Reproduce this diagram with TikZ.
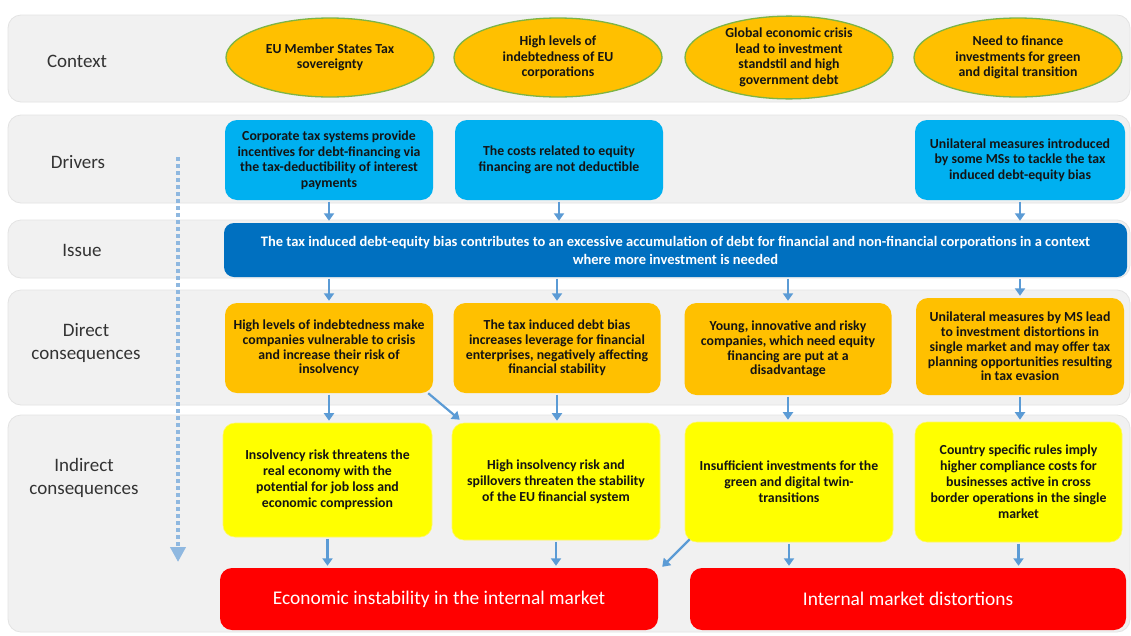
\documentclass[tikz,border=0pt]{standalone}
\usepackage{fontspec}
\setmainfont{Carlito}
\usetikzlibrary{shapes.geometric,arrows.meta,calc}
\definecolor{bandgray}{HTML}{F1F1F1}
\definecolor{bandline}{HTML}{E3E3E3}
\definecolor{ctxorange}{HTML}{FFC000}
\definecolor{ctxgreen}{HTML}{7DB446}
\definecolor{drvcyan}{HTML}{00B0F0}
\definecolor{issblue}{HTML}{0070C0}
\definecolor{conorange}{HTML}{FFC000}
\definecolor{indyellow}{HTML}{FFFF00}
\definecolor{outred}{HTML}{FF0000}
\definecolor{arrblue}{HTML}{5B9BD5}
\definecolor{dotblue}{HTML}{8FB8E0}
\definecolor{lbltext}{HTML}{333333}
\definecolor{boxtext}{HTML}{141414}
\begin{document}
\begin{tikzpicture}[x=1pt,y=-1pt,
  band/.style={fill=bandgray, draw=bandline, line width=0.8pt, rounded corners=13pt},
  lbl/.style={text=lbltext, font=\fontsize{19}{23}\selectfont, align=center},
  ctx/.style={ellipse, fill=ctxorange, draw=ctxgreen, line width=1.3pt, minimum width=208, minimum height=79, inner sep=0pt, text=boxtext, font=\bfseries\fontsize{13.8}{15.5}\selectfont, align=center},
  boxbase/.style={rounded corners=12pt, inner sep=0pt, align=center, text=boxtext, font=\bfseries\fontsize{13.8}{15.5}\selectfont},
  drvbox/.style={boxbase, fill=drvcyan, minimum width=208, minimum height=80},
  issbox/.style={rounded corners=10pt, inner sep=0pt, align=center, fill=issblue, text=white, font=\bfseries\fontsize{14.5}{18}\selectfont},
  conbox/.style={boxbase, fill=conorange, font=\bfseries\fontsize{13.8}{14.8}\selectfont},
  indbox/.style={boxbase, fill=indyellow, draw=yellow!60!white, line width=0.6pt, font=\bfseries\fontsize{13.8}{16}\selectfont},
  outbox/.style={rounded corners=12pt, inner sep=0pt, align=center, fill=outred, text=white, font=\fontsize{19.4}{22}\selectfont},
  arr/.style={draw=arrblue, line width=2.2pt, -{Triangle[length=7.5pt,width=10pt]}, shorten <=1.5pt, shorten >=2pt},
  dotarr/.style={draw=dotblue, line width=4pt, dash pattern=on 4pt off 3pt, -{Triangle[length=15pt,width=15pt]}}
]
\useasboundingbox (0,0) rectangle (1131,635);
\fill[white] (0,0) rectangle (1131,635);

% bands
\draw[band] (8,15) rectangle (1130,102);
\draw[band] (8,115) rectangle (1130,203);
\draw[band] (8,220) rectangle (1130,278);
\draw[band] (8,290) rectangle (1130,405);
\draw[band] (8,415) rectangle (1130,632);

% row labels
\node[lbl] (lctx) at (77,61) {Context};
\node[lbl] (ldrv) at (78,162) {Drivers};
\node[lbl] (liss) at (82,250) {Issue};
\node[lbl] (ldir) at (86,343) {Direct\\consequences};
\node[lbl] (lind) at (84,478) {Indirect\\consequences};

% context ellipses
\node[ctx] (e1) at (330,57.5) {EU Member States Tax\\sovereignty};
\node[ctx] (e2) at (558,57.5) {High levels of\\indebtedness of EU\\corporations};
\node[ctx] (e3) at (789,57.5) {Global economic crisis\\lead to investment\\standstil and high\\government debt};
\node[ctx] (e4) at (1018,57.5) {Need to finance\\investments for green\\and digital transition};

% drivers
\node[drvbox] (d1) at (329,160) {Corporate tax systems provide\\incentives for debt-financing via\\the tax-deductibility of interest\\payments};
\node[drvbox] (d2) at (559,160) {The costs related to equity\\financing are not deductible};
\node[drvbox, minimum width=210] (d4) at (1020,160) {Unilateral measures introduced\\by some MSs to tackle the tax\\induced debt-equity bias};

% issue
\node[issbox, minimum width=903, minimum height=54] (iss) at (675.5,250) {The tax induced debt-equity bias contributes to an excessive accumulation of debt for financial and non-financial corporations in a context\\where more investment is needed};

% direct consequences
\node[conbox, minimum width=208, minimum height=90] (c1) at (329,348) {High levels of indebtedness make\\companies vulnerable to crisis\\and increase their risk of\\insolvency};
\node[conbox, minimum width=207, minimum height=90] (c2) at (557,348) {The tax induced debt bias\\increases leverage for financial\\enterprises, negatively affecting\\financial stability};
\node[conbox, minimum width=207, minimum height=92] (c3) at (788,349) {Young, innovative and risky\\companies, which need equity\\financing are put at a\\disadvantage};
\node[conbox, minimum width=208, minimum height=97] (c4) at (1020,346.5) {Unilateral measures by MS lead\\to investment distortions in\\single market and may offer tax\\planning opportunities resulting\\in tax evasion};

% indirect consequences
\node[indbox, minimum width=209, minimum height=114] (i1) at (327.5,480) {Insolvency risk threatens the\\real economy with the\\potential for job loss and\\economic compression};
\node[indbox, minimum width=208, minimum height=117] (i2) at (556,481.5) {High insolvency risk and\\spillovers threaten the stability\\of the EU financial system};
\node[indbox, minimum width=208, minimum height=120] (i3) at (789,482) {Insufficient investments for the\\green and digital twin-\\transitions};
\node[indbox, minimum width=207, minimum height=120] (i4) at (1018.5,482) {Country specific rules imply\\higher compliance costs for\\businesses active in cross\\border operations in the single\\market};

% outcomes
\node[outbox, minimum width=438, minimum height=62] (r1) at (439,599) {Economic instability in the internal market};
\node[outbox, minimum width=436, minimum height=62] (r2) at (908,599) {Internal market distortions};

% connectors: drivers -> issue
\draw[arr] (d1.south) -- (d1.south |- iss.north);
\draw[arr] (d2.south) -- (d2.south |- iss.north);
\draw[arr] (d4.south) -- (d4.south |- iss.north);
% issue -> direct
\draw[arr] (c1.north |- iss.south) -- (c1.north);
\draw[arr] (c2.north |- iss.south) -- (c2.north);
\draw[arr] (c3.north |- iss.south) -- (c3.north);
\draw[arr] (c4.north |- iss.south) -- (c4.north);
% direct -> indirect
\draw[arr] (c1.south) -- (c1.south |- i1.north);
\draw[arr] (c2.south) -- (c2.south |- i2.north);
\draw[arr] (c3.south) -- (c3.south |- i3.north);
\draw[arr] (c4.south) -- (c4.south |- i4.north);
\draw[arr, shorten <=0pt, shorten >=0pt] ($(c1.south east)+(-5,0)$) -- ($(i2.north west)+(8,-3)$);
% indirect -> outcomes
\draw[arr] (i1.south) -- (i1.south |- r1.north);
\draw[arr] (i2.south) -- (i2.south |- r1.north);
\draw[arr] (i3.south) -- (i3.south |- r2.north);
\draw[arr] (i4.south) -- (i4.south |- r2.north);
\draw[arr, shorten <=0pt, shorten >=0pt] ($(i3.south west)+(5,-3)$) -- ($(r1.north east)+(4,-1)$);

% dotted time arrow
\coordinate (dtop) at (178,157);
\coordinate (dbot) at (178,562);
\draw[dotarr] (dtop) -- (dbot);
\end{tikzpicture}
\end{document}
